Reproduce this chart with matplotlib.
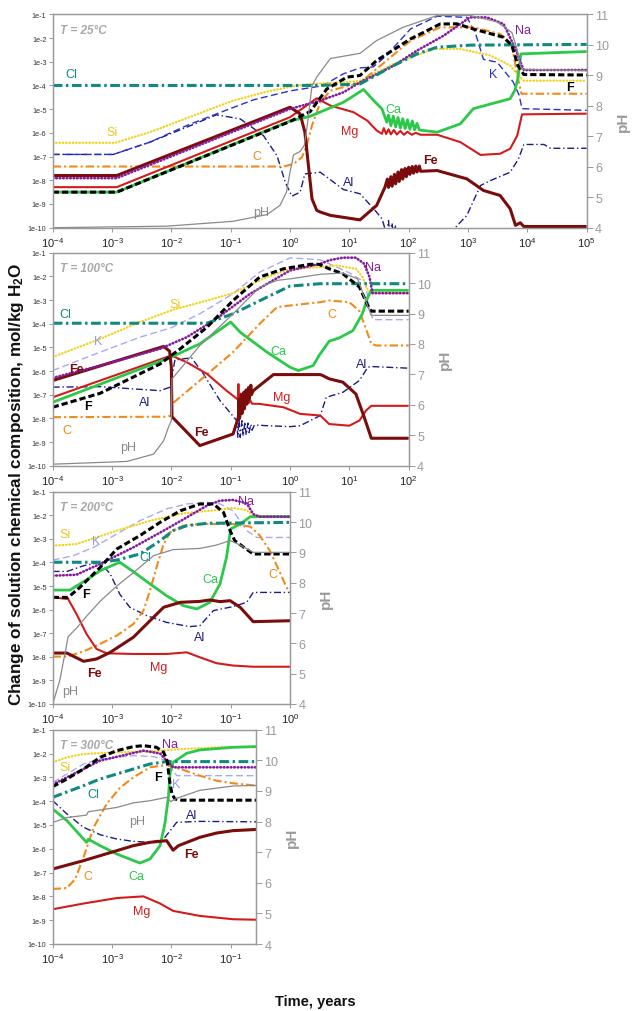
import numpy as np
import matplotlib
matplotlib.use('Agg')
import matplotlib.pyplot as plt

plt.rcParams['font.family'] = ['Liberation Sans', 'DejaVu Sans']
plt.rcParams['mathtext.fontset'] = 'custom'
plt.rcParams['mathtext.rm'] = 'Liberation Sans'
plt.rcParams['mathtext.it'] = 'Liberation Sans:italic'
plt.rcParams['mathtext.bf'] = 'Liberation Sans:bold'
plt.rcParams['lines.scale_dashes'] = False

# ---------------- data ----------------
# each series: (log10 time [years], log10 concentration [mol/kg H2O]); pH series: (log10 time, pH)

# T = 25 C
T25_CL = [(-4,-4.0),(0.5,-4.0),(1.18,-3.94),(1.75,-3.16),(2.14,-2.67),(2.48,-2.39),(3.04,-2.30),(5,-2.27)]
T25_SI = [(-4,-6.42),(-2.95,-6.42),(-2.36,-5.97),(-1.52,-5.17),(-0.96,-4.64),(-0.39,-4.26),(0.06,-4.03),(0.34,-3.94),
          (0.90,-3.87),(1.18,-3.80),(1.75,-3.09),(2.42,-2.46),(2.87,-2.46),(3.38,-2.74),(3.71,-3.16),(3.85,-3.58),(3.94,-3.80),(5,-3.80)]
T25_K = [(-4,-6.91),(-2.98,-6.91),(-2.36,-6.39),(-1.74,-5.69),(-1.24,-5.20),(-0.62,-4.61),(0.0,-4.23),(0.51,-4.03),(0.60,-3.94),
         (0.90,-3.51),(1.18,-3.26),(1.40,-3.22),(1.60,-2.80),(2.03,-1.62),(2.48,-1.08),(2.98,-1.13),(3.12,-1.76),(3.26,-2.90),
         (3.49,-3.02),(3.76,-3.85),(3.86,-4.40),(3.91,-4.98),(5,-5.05)]
T25_NA = [(-4,-7.91),(-2.92,-7.91),(0.0,-4.99),(0.51,-4.64),(0.90,-4.29),(1.18,-3.87),(1.75,-3.16),(2.14,-2.53),(2.59,-1.90),
          (3.03,-1.13),(3.32,-1.13),(3.60,-1.41),(3.80,-2.46),(3.88,-3.0),(3.94,-3.35),(5,-3.35)]
T25_F = [(-4,-8.50),(-2.92,-8.50),(0.0,-5.52),(0.34,-5.10),(0.62,-4.15),(0.96,-3.65),(1.18,-3.58),(1.46,-2.95),(2.03,-2.04),
         (2.53,-1.41),(2.81,-1.40),(3.09,-1.62),(3.60,-1.97),(3.74,-2.32),(3.84,-3.16),(3.94,-3.54),(5,-3.56)]
T25_CA = [(-4,-8.50),(-2.92,-8.50),(0.0,-5.50),(0.34,-5.30),(0.90,-4.71),(1.24,-4.17),(1.41,-4.64),(1.55,-4.99),(1.63,-5.55),
          (1.66,-5.25),(1.70,-5.70),(1.74,-5.30),(1.78,-5.75),(1.82,-5.35),(1.86,-5.80),(1.90,-5.40),(1.94,-5.82),(1.98,-5.45),
          (2.02,-5.85),(2.06,-5.50),(2.10,-5.87),(2.14,-5.60),(2.18,-5.88),(2.48,-5.97),(2.87,-5.62),(3.09,-4.98),(3.71,-4.56),
          (3.79,-4.20),(3.84,-3.72),(3.89,-2.67),(5,-2.57)]
T25_MG = [(-4,-8.29),(-2.92,-8.29),(0.0,-5.34),(0.25,-4.90),(0.45,-4.54),(0.68,-4.85),(1.07,-5.13),(1.30,-5.48),(1.46,-5.90),
          (1.55,-6.04),(1.58,-5.80),(1.62,-6.05),(1.66,-5.85),(1.70,-6.06),(1.75,-5.88),(1.80,-6.07),(1.86,-5.92),(1.92,-6.08),
          (1.98,-5.95),(2.05,-6.08),(2.12,-6.0),(2.20,-6.08),(2.48,-6.08),(2.87,-6.39),(3.21,-6.93),(3.54,-6.88),(3.71,-6.67),
          (3.83,-6.11),(3.91,-5.22),(5,-5.19)]
T25_FE = [(-4,-7.80),(-2.92,-7.80),(0.0,-4.92),(0.17,-5.20),(0.25,-5.97),(0.31,-7.38),(0.37,-8.78),(0.45,-9.27),(0.51,-9.34),
          (0.68,-9.48),(1.18,-9.67),(1.46,-9.06),(1.60,-8.29),(1.64,-7.95),(1.66,-8.30),(1.70,-7.85),(1.72,-8.25),(1.76,-7.75),
          (1.78,-8.15),(1.82,-7.65),(1.84,-8.05),(1.88,-7.55),(1.90,-7.95),(1.94,-7.50),(1.96,-7.85),(2.00,-7.45),(2.02,-7.75),
          (2.06,-7.42),(2.08,-7.70),(2.12,-7.40),(2.14,-7.65),(2.18,-7.40),(2.20,-7.62),(2.48,-7.59),(2.98,-7.94),(3.26,-8.43),
          (3.54,-8.64),(3.71,-9.20),(3.80,-9.90),(3.88,-9.79),(3.94,-9.95),(5,-9.95)]
T25_C = [(-4,-7.42),(-0.11,-7.42),(0.06,-7.31),(0.20,-7.03),(0.28,-6.53),(0.37,-5.69),(0.51,-4.71),(0.68,-4.22),(1.18,-3.89),
         (1.46,-3.30),(2.03,-2.11),(2.53,-1.55),(3.09,-1.55),(3.54,-1.83),(3.74,-2.32),(3.83,-3.58),(3.90,-4.35),(5,-4.35)]
T25_AL = [(-4,-6.91),(-2.98,-6.91),(-2.36,-6.39),(-1.74,-5.76),(-1.24,-5.24),(-0.84,-5.41),(-0.45,-6.11),(-0.22,-6.96),
          (-0.08,-8.08),(0.03,-8.67),(0.17,-8.50),(0.25,-7.73),(0.51,-7.66),(0.90,-8.39),(1.18,-8.57),(1.41,-9.20),(1.55,-9.62),
          (1.63,-10.3),(1.66,-9.7),(1.68,-10.3),(1.72,-9.8),(1.74,-10.3),(1.78,-9.9),(1.80,-10.3),(2.67,-10.3),(2.98,-9.48),
          (3.21,-8.22),(3.38,-8.01),(3.71,-7.66),(3.85,-7.10),(3.94,-6.49),(4.28,-6.49),(4.39,-6.65),(5,-6.65)]
T25_PH = [(-4,4.0),(-2.08,4.05),(-0.96,4.21),(-0.39,4.43),(-0.17,4.73),(-0.06,5.17),(0.0,5.83),(0.06,6.39),(0.17,6.50),
          (0.24,6.70),(0.29,7.35),(0.37,8.66),(0.45,8.94),(0.68,9.55),(1.18,9.72),(1.46,10.14),(1.90,10.57),(2.48,10.96),
          (3.04,10.96),(3.49,10.75),(3.74,10.40),(3.82,9.90),(3.90,9.20),(5,9.15)]

# T = 100 C
T100_CL = [(-4,-3.98),(-1.40,-3.98),(-0.96,-3.58),(-0.39,-2.88),(0.0,-2.41),(0.51,-2.31),(2,-2.31)]
T100_SI = [(-4,-5.41),(-3.20,-4.64),(-2.53,-3.93),(-1.97,-3.41),(-1.40,-3.02),(-0.96,-2.71),(-0.39,-2.03),(0.0,-1.68),
           (0.51,-1.61),(0.78,-1.54),(1.11,-1.68),(1.22,-2.03),(1.31,-2.59),(1.37,-2.71),(2,-2.71)]
T100_K = [(-4,-5.98),(-3.20,-5.20),(-2.53,-4.57),(-2.0,-4.17),(-1.52,-3.58),(-0.96,-2.73),(-0.51,-1.82),(0.0,-1.22),
          (0.51,-1.30),(1.0,-1.85),(1.27,-2.27),(1.34,-3.4),(1.40,-3.83),(2,-3.83)]
T100_NA = [(-4,-6.29),(-3.20,-5.77),(-2.19,-5.06),(-1.74,-4.57),(-1.24,-3.79),(-0.67,-2.73),(0.0,-1.75),(0.51,-1.47),
           (0.66,-1.32),(0.89,-1.21),(1.11,-1.21),(1.25,-1.47),(1.34,-2.03),(1.39,-2.71),(2,-2.71)]
T100_F = [(-4,-7.53),(-3.20,-6.94),(-2.19,-5.70),(-1.85,-5.06),(-1.40,-4.15),(-0.96,-3.02),(-0.51,-2.03),(-0.11,-1.68),
          (0.34,-1.49),(0.49,-1.49),(0.66,-1.68),(0.89,-1.89),(1.17,-2.45),(1.31,-3.23),(1.37,-3.47),(2,-3.47)]
T100_CA = [(-4,-7.32),(-2.0,-5.41),(-1.52,-4.85),(-1.0,-3.93),(-0.84,-4.36),(-0.39,-5.20),(0.0,-5.84),(0.14,-5.98),
           (0.39,-5.77),(0.49,-5.34),(0.66,-4.74),(0.83,-4.60),(1.06,-4.29),(1.22,-3.58),(1.31,-2.88),(1.37,-2.59),(2,-2.59)]
T100_C = [(-4,-7.95),(-2.08,-7.93),(-2.0,-7.88),(-1.99,-7.39),(-1.52,-6.40),(-0.96,-5.20),(-0.51,-4.0),(-0.22,-3.30),
          (0.0,-3.23),(0.51,-3.09),(0.66,-3.02),(1.0,-3.09),(1.17,-3.47),(1.28,-4.22),(1.37,-4.85),(1.45,-4.92),(2,-4.92)]
T100_MG = [(-4,-7.11),(-2.0,-5.34),(-1.74,-5.63),(-1.40,-6.12),(-1.07,-6.83),(-0.88,-7.20),(-0.87,-6.55),(-0.86,-7.25),
           (-0.83,-6.95),(-0.81,-7.30),(-0.78,-7.05),(-0.76,-7.33),(-0.73,-7.15),(-0.70,-7.36),(-0.67,-7.25),(-0.64,-7.38),
           (-0.51,-7.39),(-0.11,-7.53),(0.17,-7.81),(0.51,-7.88),(0.66,-8.24),(1.0,-8.31),(1.17,-8.09),(1.28,-7.67),
           (1.37,-7.47),(2,-7.47)]
T100_FE = [(-4,-6.40),(-2.13,-4.96),(-2.03,-5.16),(-2.0,-5.84),(-1.99,-7.93),(-1.52,-9.15),(-0.96,-8.66),(-0.87,-7.95),
           (-0.86,-7.2),(-0.85,-8.0),(-0.82,-7.0),(-0.81,-7.8),(-0.78,-6.9),(-0.77,-7.6),(-0.74,-6.8),(-0.73,-7.4),
           (-0.70,-6.7),(-0.69,-7.2),(-0.66,-6.6),(-0.65,-7.0),(-0.62,-6.83),(-0.28,-6.15),(0.51,-6.15),(0.55,-6.19),
           (0.66,-6.33),(0.89,-6.47),(1.11,-6.97),(1.25,-7.95),(1.37,-8.84),(2,-8.84)]
T100_AL = [(-4,-6.68),(-3.20,-6.66),(-2.19,-6.83),(-2.02,-6.68),(-1.94,-5.53),(-1.66,-5.44),(-1.46,-6.12),(-1.18,-7.25),
           (-0.90,-8.09),(-0.88,-8.8),(-0.86,-8.0),(-0.84,-8.8),(-0.81,-8.1),(-0.79,-8.75),(-0.76,-8.15),(-0.74,-8.7),
           (-0.71,-8.2),(-0.69,-8.6),(-0.66,-8.25),(-0.64,-8.5),(-0.60,-8.28),(-0.39,-8.31),(0.0,-8.35),(0.17,-8.31),
           (0.51,-7.88),(0.61,-7.11),(0.89,-6.90),(1.17,-6.40),(1.31,-5.84),(1.37,-5.81),(2,-5.88)]
T100_PH = [(-4,4.05),(-2.75,4.14),(-2.30,4.38),(-2.13,4.82),(-2.05,5.26),(-2.0,5.48),(-1.99,6.85),(-1.52,7.95),
           (-0.96,8.99),(-0.51,9.87),(-0.22,10.09),(0.0,10.14),(0.51,10.29),(0.89,10.33),(1.14,10.14),(1.25,9.54),
           (1.37,8.94),(2,8.94)]

# T = 200 C
T200_CL = [(-4,-3.99),(-3.20,-3.99),(-2.92,-3.90),(-2.53,-3.64),(-2.19,-3.08),(-1.97,-2.65),(-1.74,-2.44),(-1.40,-2.34),(0,-2.30)]
T200_SI = [(-4,-3.29),(-3.60,-3.22),(-2.92,-2.65),(-2.36,-2.23),(-1.80,-1.92),(-1.24,-1.78),(-0.96,-1.69),(-0.73,-1.78),
           (-0.62,-2.02),(0,-2.05)]
T200_K = [(-4,-3.90),(-3.65,-3.71),(-3.31,-3.36),(-2.92,-2.79),(-2.53,-2.23),(-2.08,-1.73),(-1.74,-1.52),(-1.40,-1.45),
          (-1.18,-1.52),(-0.96,-1.81),(-0.73,-2.65),(-0.56,-2.94),(0,-2.94)]
T200_NA = [(-4,-4.56),(-3.60,-4.52),(-3.20,-4.06),(-2.64,-3.36),(-2.08,-2.58),(-1.74,-2.09),(-1.40,-1.59),(-1.18,-1.38),
           (-0.96,-1.35),(-0.73,-1.49),(-0.62,-1.95),(-0.51,-2.06),(0,-2.06)]
T200_F = [(-4,-5.48),(-3.74,-5.48),(-3.54,-5.05),(-3.20,-4.21),(-2.92,-3.43),(-2.53,-2.86),(-2.19,-2.30),(-1.85,-1.81),
          (-1.52,-1.52),(-1.29,-1.52),(-1.12,-1.88),(-1.01,-2.65),(-0.93,-3.08),(-0.62,-3.64),(0,-3.64)]
T200_CA = [(-4,-5.17),(-3.71,-5.17),(-3.43,-4.74),(-3.20,-4.35),(-2.87,-3.99),(-2.64,-4.39),(-2.36,-4.91),(-2.08,-5.41),
           (-1.80,-5.83),(-1.57,-5.97),(-1.35,-5.69),(-1.18,-4.91),(-1.07,-3.78),(-1.0,-2.58),(-0.84,-2.37),(-0.67,-2.06),(0,-2.06)]
T200_C = [(-4,-7.99),(-3.76,-7.99),(-3.48,-7.77),(-3.20,-7.45),(-2.92,-7.10),(-2.64,-6.61),(-2.47,-6.04),(-2.36,-5.19),
          (-2.25,-4.21),(-2.13,-3.22),(-2.02,-2.72),(-1.80,-2.44),(-1.52,-2.37),(-0.96,-2.37),(-0.67,-2.48),(-0.51,-2.86),
          (-0.34,-3.50),(-0.17,-4.42),(-0.06,-5.05),(0,-5.27)]
T200_MG = [(-4,-5.48),(-3.74,-5.55),(-3.60,-6.18),(-3.43,-7.03),(-3.26,-7.67),(-3.09,-7.85),(-2.64,-7.88),(-2.08,-7.88),
           (-1.74,-7.81),(-1.52,-8.02),(-1.24,-8.27),(-0.96,-8.37),(-0.62,-8.42),(0,-8.42)]
T200_FE = [(-4,-7.84),(-3.76,-7.84),(-3.48,-8.19),(-3.26,-8.09),(-3.03,-7.81),(-2.64,-7.17),(-2.36,-6.47),(-2.13,-5.90),
           (-1.85,-5.69),(-1.52,-5.65),(-1.35,-5.59),(-1.18,-5.66),(-1.01,-5.62),(-0.84,-5.90),(-0.62,-6.51),(0,-6.47)]
T200_AL = [(-4,-4.38),(-3.76,-4.38),(-3.48,-4.14),(-3.20,-3.99),(-3.03,-4.49),(-2.87,-5.34),(-2.70,-5.90),(-2.42,-6.25),
           (-2.08,-6.54),(-1.69,-6.72),(-1.52,-6.68),(-1.29,-6.04),(-0.96,-5.87),(-0.73,-5.69),(-0.62,-5.27),(0,-5.27)]
T200_PH = [(-4,4.0),(-3.88,4.78),(-3.74,6.22),(-3.60,6.50),(-3.43,6.89),(-3.20,7.39),(-2.92,7.89),(-2.64,8.33),(-2.30,8.89),
           (-1.97,9.09),(-1.52,9.13),(-1.24,9.24),(-1.01,9.39),(-0.84,9.24),(-0.62,9.0),(0,9.0)]

# T = 300 C
T300_CL = [(-4,-3.84),(-3.48,-3.35),(-3.20,-3.07),(-2.64,-2.65),(-2.36,-2.44),(-2.08,-2.34),(-0.57,-2.34)]
T300_SI = [(-4,-2.37),(-3.76,-2.16),(-3.48,-2.02),(-2.92,-1.95),(-2.36,-1.91),(-1.80,-1.81),(-1.24,-1.74),(-0.57,-1.71)]
T300_K = [(-4,-3.21),(-3.76,-2.86),(-3.48,-2.44),(-3.20,-2.23),(-2.64,-2.09),(-2.30,-2.13),(-2.08,-2.30),(-1.99,-2.65),
          (-1.91,-2.93),(-0.57,-2.93)]
T300_NA = [(-4,-3.30),(-3.20,-2.30),(-2.47,-1.88),(-2.19,-2.0),(-2.08,-2.30),(-1.97,-2.58),(-0.57,-2.58)]
T300_F = [(-4,-3.39),(-3.76,-3.07),(-3.48,-2.65),(-3.20,-2.16),(-2.92,-1.88),(-2.64,-1.71),(-2.47,-1.67),(-2.25,-1.74),
          (-2.13,-1.95),(-2.07,-2.30),(-2.03,-3.14),(-1.99,-3.70),(-1.94,-3.91),(-1.83,-3.96),(-0.57,-3.96)]
T300_CA = [(-4,-4.33),(-3.76,-4.82),(-3.43,-5.73),(-3.40,-5.60),(-3.20,-5.87),(-2.92,-6.22),(-2.53,-6.60),(-2.36,-6.43),
           (-2.19,-5.87),(-2.11,-4.96),(-2.05,-3.84),(-2.02,-2.79),(-1.97,-2.37),(-1.74,-1.99),(-1.52,-1.85),(-0.96,-1.74),(-0.57,-1.71)]
T300_C = [(-4,-7.69),(-3.76,-7.65),(-3.62,-7.27),(-3.48,-6.36),(-3.31,-5.10),(-3.09,-4.12),(-2.87,-3.45),(-2.64,-3.0),
          (-2.36,-2.58),(-2.08,-2.48),(-1.80,-2.69),(-1.52,-2.93),(-1.24,-3.14),(-0.96,-3.25),(-0.57,-3.35)]
T300_MG = [(-4,-8.54),(-3.48,-8.30),(-2.92,-8.07),(-2.47,-8.0),(-2.19,-8.30),(-1.97,-8.61),(-1.52,-8.82),(-0.96,-8.96),(-0.57,-8.98)]
T300_FE = [(-4,-6.85),(-3.48,-6.50),(-3.20,-6.29),(-2.92,-6.08),(-2.64,-5.87),(-2.36,-5.73),(-2.08,-5.66),(-1.97,-6.06),
           (-1.88,-5.87),(-1.52,-5.52),(-1.24,-5.34),(-0.96,-5.24),(-0.57,-5.19)]
T300_AL = [(-4,-3.98),(-3.76,-4.54),(-3.48,-5.10),(-3.20,-5.41),(-2.92,-5.59),(-2.64,-5.69),(-2.36,-5.73),(-2.13,-5.59),
           (-2.02,-5.24),(-1.91,-4.89),(-1.52,-4.85),(-0.57,-4.87)]
T300_PH = [(-4,7.97),(-3.76,8.13),(-3.43,8.21),(-3.40,8.32),(-2.92,8.46),(-2.64,8.61),(-2.36,8.68),(-2.08,8.79),(-2.01,8.65),
           (-1.91,8.76),(-1.52,9.02),(-0.96,9.16),(-0.57,9.18)]

PANEL_TITLES = ['T = 25\u00b0C', 'T = 100\u00b0C', 'T = 200\u00b0C', 'T = 300\u00b0C']
Y_TICK_LABELS = ['1e-10', '1e-9', '1e-8', '1e-7', '1e-6', '1e-5', '1e-4', '1e-3', '1e-2', '1e-1']
PH_TICKS = [4, 5, 6, 7, 8, 9, 10, 11]

# ---------------- styles ----------------
GRAY = '#9a9a9a'
STY = {
    'pH': dict(color='#8a8a8a', lw=0.9, ls='-'),
    'Al': dict(color='#1c1c88', lw=1.0, ls=(0, (5, 2, 1, 2))),
    'K':  dict(color='#2a30d0', lw=1.0, ls=(0, (5, 2.5))),
    'Kl': dict(color='#a9a9f0', lw=1.0, ls=(0, (5, 2.5))),
    'Si': dict(color='#f2d21c', lw=1.6, ls=(0, (0.4, 2.0))),
    'C':  dict(color='#f08a18', lw=1.5, ls=(0, (6, 2.2, 1.5, 2.2))),
    'Mg': dict(color='#d21c1c', lw=1.5, ls='-'),
    'Ca': dict(color='#2cc84a', lw=2.0, ls='-'),
    'Fe': dict(color='#7a0c0c', lw=2.2, ls='-'),
    'Na': dict(color='#861c9c', lw=1.9, ls=(0, (0.5, 2.0))),
    'Cl': dict(color='#108a80', lw=2.2, ls=(0, (7, 2.5, 1.8, 2.5))),
    'F':  dict(color='#000000', lw=2.2, ls=(0, (4.5, 2.2))),
}
LABEL_COLORS = {'Cl': '#108a80', 'Si': '#e8c820', 'K': '#2a30d0', 'Kl': '#9a9ae8', 'Na': '#861c9c',
                'F': '#000000', 'Ca': '#2cc84a', 'C': '#f08a18', 'Mg': '#d21c1c', 'Fe': '#7a0c0c',
                'Al': '#1c1c88', 'pH': '#8a8a8a'}

W, H = 638, 1012
fig = plt.figure(figsize=(W / 100, H / 100), dpi=100)

# panel boxes in pixels (left, right, top, bottom) and x limits (log10 years)
BOXES = [(52.7, 586.7, 15.3, 228.7), (52.7, 408.7, 253.7, 466.7),
         (52.7, 290.0, 492.7, 705.0), (52.7, 256.0, 730.7, 945.0)]
XMAX = [5, 2, 0, -0.573]

PANELS = [
    dict(Al=T25_AL, K=T25_K, Si=T25_SI, C=T25_C, Mg=T25_MG, Ca=T25_CA, Fe=T25_FE, Na=T25_NA, Cl=T25_CL, F=T25_F, pH=T25_PH),
    dict(Al=T100_AL, K=T100_K, Si=T100_SI, C=T100_C, Mg=T100_MG, Ca=T100_CA, Fe=T100_FE, Na=T100_NA, Cl=T100_CL, F=T100_F, pH=T100_PH),
    dict(Al=T200_AL, K=T200_K, Si=T200_SI, C=T200_C, Mg=T200_MG, Ca=T200_CA, Fe=T200_FE, Na=T200_NA, Cl=T200_CL, F=T200_F, pH=T200_PH),
    dict(Al=T300_AL, K=T300_K, Si=T300_SI, C=T300_C, Mg=T300_MG, Ca=T300_CA, Fe=T300_FE, Na=T300_NA, Cl=T300_CL, F=T300_F, pH=T300_PH),
]

# label positions (axes fraction)
LABELS = [
    [('Cl', 0.034, 0.720), ('Si', 0.112, 0.450), ('C', 0.382, 0.337), ('pH', 0.390, 0.074), ('Mg', 0.557, 0.455),
     ('Ca', 0.638, 0.556), ('Al', 0.555, 0.216), ('Fe', 0.707, 0.319), ('K', 0.825, 0.720), ('Na', 0.881, 0.928),
     ('F', 0.969, 0.661)],
    [('Cl', 0.035, 0.712), ('Si', 0.343, 0.759), ('Kl', 0.128, 0.584), ('Fe', 0.067, 0.454), ('F', 0.100, 0.282),
     ('Al', 0.259, 0.298), ('C', 0.039, 0.168), ('pH', 0.212, 0.086), ('Ca', 0.633, 0.540), ('Fe', 0.418, 0.157),
     ('Mg', 0.643, 0.321), ('Na', 0.900, 0.931), ('C', 0.783, 0.712), ('Al', 0.867, 0.477)],
    [('Si', 0.052, 0.801), ('Kl', 0.185, 0.769), ('Cl', 0.389, 0.691), ('F', 0.140, 0.518), ('Ca', 0.663, 0.589),
     ('C', 0.927, 0.612), ('Na', 0.815, 0.958), ('Al', 0.621, 0.315), ('Fe', 0.175, 0.145), ('Mg', 0.445, 0.173),
     ('pH', 0.073, 0.063)],
    [('Na', 0.577, 0.933), ('Si', 0.060, 0.825), ('F', 0.519, 0.778), ('Kl', 0.606, 0.747), ('Cl', 0.200, 0.700),
     ('pH', 0.413, 0.573), ('Al', 0.684, 0.603), ('Fe', 0.684, 0.420), ('C', 0.175, 0.316), ('Ca', 0.413, 0.319),
     ('Mg', 0.438, 0.153)],
]

ORDER = ['Al', 'K', 'Si', 'C', 'Mg', 'Ca', 'Fe', 'Na', 'Cl', 'F']

for i, (box, xmax, data) in enumerate(zip(BOXES, XMAX, PANELS)):
    l, r, t, b = box
    ax = fig.add_axes([l / W, 1 - b / H, (r - l) / W, (b - t) / H])
    ax.set_xscale('log')
    ax.set_yscale('log')
    for key in ORDER:
        pts = np.array(data[key], dtype=float)
        sty = STY['Kl'] if (key == 'K' and i > 0) else STY[key]
        dotted = key in ('Si', 'Na')
        ax.plot(10 ** pts[:, 0], 10 ** pts[:, 1], color=sty['color'], lw=sty['lw'], ls=sty['ls'],
                solid_capstyle='butt', dash_capstyle='round' if dotted else 'butt')
    ax.set_xlim(1e-4, 10 ** xmax)
    ax.set_ylim(1e-10, 1e-1)
    ax.set_yticks([10.0 ** e for e in range(-10, 0)])
    ax.set_yticklabels(Y_TICK_LABELS)
    ax.yaxis.set_minor_locator(matplotlib.ticker.NullLocator())
    exps = list(range(-4, int(np.floor(xmax)) + 1))
    ax.set_xticks([10.0 ** e for e in exps])
    ax.set_xticklabels([r'$\mathit{10^{%d}}$' % e for e in exps])
    ax.xaxis.set_minor_locator(matplotlib.ticker.NullLocator())
    ax.tick_params(axis='y', which='major', length=3, width=0.7, color=GRAY, labelsize=5.2, pad=1.5, labelcolor='#333333')
    ax.tick_params(axis='x', which='major', length=3, width=0.7, color=GRAY, labelsize=8, pad=2.5, labelcolor='#222222')
    for sp in ax.spines.values():
        sp.set_color(GRAY)
        sp.set_linewidth(0.9)

    ax2 = ax.twinx()
    ph = np.array(data['pH'], dtype=float)
    ax2.plot(10 ** ph[:, 0], ph[:, 1], color=STY['pH']['color'], lw=STY['pH']['lw'], ls=STY['pH']['ls'])
    ax2.set_ylim(4, 11)
    ax2.set_yticks(PH_TICKS)
    ax2.set_yticklabels([str(v) for v in PH_TICKS])
    ax2.tick_params(axis='y', length=4, width=0.7, color=GRAY, labelsize=9, pad=2, labelcolor='#9a9a9a')
    for sp in ax2.spines.values():
        sp.set_color(GRAY)
        sp.set_linewidth(0.9)
    ax2.set_ylabel('pH', color='#9a9a9a', fontsize=11, fontweight='bold', rotation=90)
    ax2.yaxis.set_label_coords(1 + 29 / (r - l), 0.5)

    ax.text(7.3 / (r - l), 0.928, PANEL_TITLES[i], transform=ax.transAxes, ha='left', va='center',
            color='#a8a8a8', fontsize=8.5, fontweight='bold', fontstyle='italic')
    for name, fx, fy in LABELS[i]:
        col = LABEL_COLORS['K' if (name == 'Kl' and i == 0) else name]
        txt = 'K' if name == 'Kl' else name
        ax.text(fx, fy, txt, transform=ax.transAxes, ha='center', va='center', color=col, fontsize=9,
                fontweight='bold' if name in ('F', 'Fe') else 'normal')

fig.text(17 / W, 1 - 484 / H, 'Change of solution chemical composition, mol/kg H$_\\mathbf{2}$O', rotation=90,
         ha='center', va='center', fontsize=12.3, fontweight='bold', color='#111111')
fig.text(315 / W, 1 - 1002 / H, 'Time, years', ha='center', va='center', fontsize=10.5, fontweight='bold', color='#111111')

fig.savefig('out.png', dpi=100, facecolor='white')
